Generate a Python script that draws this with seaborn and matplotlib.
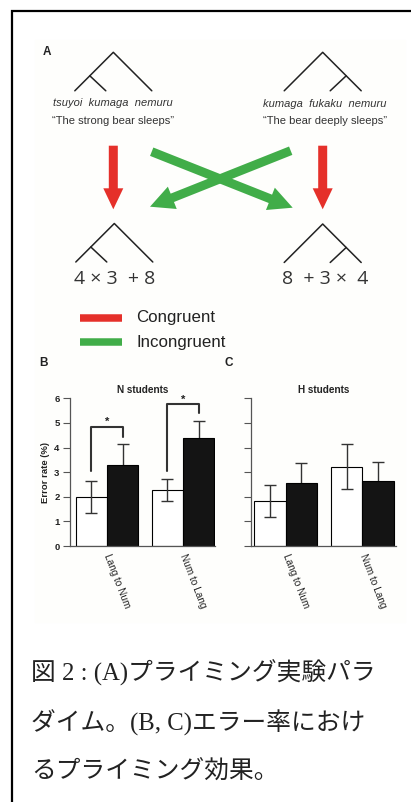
import numpy as np
import pandas as pd
import seaborn as sns
import matplotlib.pyplot as plt
from matplotlib.patches import FancyArrow

# datos
tasks = ["Lang to Num", "Num to Lang"]
primes = ["Congruent", "Incongruent"]
n_mean = [2.00, 3.30, 2.29, 4.37]      # orden: (task, prime)
n_err = [0.66, 0.83, 0.45, 0.70]
h_mean = [1.83, 2.56, 3.22, 2.66]
h_err = [0.65, 0.83, 0.91, 0.76]
yticks = [0, 1, 2, 3, 4, 5, 6]
# corchetes de significancia en N students: (top, pie izq, pie der)
sig_top = [4.85, 5.77]
sig_left = [3.04, 3.04]
sig_right = [4.44, 5.39]

legend_labels = ["Congruent", "Incongruent"]
legend_colors = ["#e5302a", "#41ad49"]
caption = ["図 2 : (A)プライミング実験パラ",
           "ダイム。(B, C)エラー率におけ",
           "るプライミング効果。"]

sns.set_style("white")
plt.rcParams["font.family"] = ["Liberation Sans", "DejaVu Sans"]

W, H = 411, 802
fig = plt.figure(figsize=(W / 100, H / 100), dpi=100)

# capa de fondo en pixeles (esquema A, marco, pie de figura)
bg = fig.add_axes([0, 0, 1, 1])
bg.set_xlim(0, W)
bg.set_ylim(H, 0)
bg.axis("off")

bg.add_patch(plt.Rectangle((35, 40), 370, 582, color="#fefefc", zorder=0))
bg.plot([12, 12, W], [H, 11, 11], color="black", lw=1.6, solid_joinstyle="miter")

def tree(ax, x0, y0, inner_left):
    # arbol binario: apex, base y rama interna
    half, h = 38.5, 38.5
    ax.plot([x0 - half, x0, x0 + half], [y0 + h, y0, y0 + h], color="#222", lw=1.1)
    if inner_left:
        ax.plot([x0 - 23.5, x0 - 7.5], [y0 + 23.5, y0 + h], color="#222", lw=1.1)
    else:
        ax.plot([x0 + 23.5, x0 + 7.5], [y0 + 23.5, y0 + h], color="#222", lw=1.1)

tree(bg, 113.3, 52.3, True)
tree(bg, 322.7, 52.3, False)
tree(bg, 114.3, 223.5, True)
tree(bg, 322.7, 224.0, False)

bg.text(47, 52, "A", fontsize=8.5, fontweight="bold", ha="center", va="center", color="#222")
bg.text(113.3, 103.3, "tsuyoi  kumaga  nemuru", fontsize=8, style="italic",
        ha="center", va="center", color="#333")
bg.text(113.3, 121.3, "\u201cThe strong bear sleeps\u201d", fontsize=8,
        ha="center", va="center", color="#333")
bg.text(325, 104.3, "kumaga  fukaku  nemuru", fontsize=8, style="italic",
        ha="center", va="center", color="#333")
bg.text(325, 121.3, "\u201cThe bear deeply sleeps\u201d", fontsize=8,
        ha="center", va="center", color="#333")
bg.text(115, 279, "4 \u00d7 3  + 8", fontsize=14, family="Open Sans",
        ha="center", va="center", color="#333")
bg.text(325, 279, "8  + 3 \u00d7  4", fontsize=14, family="Open Sans",
        ha="center", va="center", color="#333")

# flechas
for x in [113.3, 322.7]:
    bg.add_patch(FancyArrow(x, 145.7, 0, 63.6, width=9, head_width=20, head_length=21,
                            length_includes_head=True, color=legend_colors[0], lw=0))
bg.add_patch(FancyArrow(151.7, 151.7, 141, 56, width=9, head_width=24, head_length=24,
                        length_includes_head=True, color=legend_colors[1], lw=0))
bg.add_patch(FancyArrow(290.7, 150.7, -140.7, 56, width=9, head_width=24, head_length=24,
                        length_includes_head=True, color=legend_colors[1], lw=0))

# leyenda
for i, (lab, col) in enumerate(zip(legend_labels, legend_colors)):
    y = 317.7 + 24.6 * i
    bg.plot([80, 122.3], [y, y], color=col, lw=5.4, solid_capstyle="butt")
    bg.text(136, y, lab, fontsize=12.2, ha="left", va="center", color="#222")

bg.text(43, 363, "B", fontsize=8.5, fontweight="bold", ha="center", va="center", color="#222")
bg.text(229, 363, "C", fontsize=8.5, fontweight="bold", ha="center", va="center", color="#222")

for i, line in enumerate(caption):
    bg.text(31, 673 + 49.5 * i, line, fontsize=17.8, ha="left", va="center", color="#222",
            family=["Liberation Serif", "Noto Sans CJK JP"])


def panel(rect, means, errs, title, xlim, show_labels):
    ax = fig.add_axes(rect)
    df = pd.DataFrame({
        "task": np.repeat(tasks, 2),
        "prime": primes * 2,
        "rate": means,
        "err": errs,
    })
    sns.barplot(data=df, x="task", y="rate", hue="prime", order=tasks, hue_order=primes,
                palette=["white", "#141414"], edgecolor="black", linewidth=0.8,
                width=0.82, gap=0, errorbar=None, legend=False, ax=ax)
    bar_groups = list(ax.containers)
    for k, cont in enumerate(bar_groups):
        for j, bar in enumerate(cont):
            row = df[(df.task == tasks[j]) & (df.prime == primes[k])].iloc[0]
            cx = bar.get_x() + bar.get_width() / 2
            ax.errorbar(cx, row.rate, yerr=row.err, color="#333", lw=1.0, capsize=4.6,
                        capthick=1.0, zorder=3 if k == 0 else 0.5)
    ax.set_xlim(*xlim)
    ax.set_ylim(0, 6)
    ax.set_yticks(yticks)
    ax.set_xlabel("")
    ax.set_title(title, fontsize=7.2, fontweight="bold", pad=4, color="#222")
    sns.despine(ax=ax)
    for s in ["left", "bottom"]:
        ax.spines[s].set_color("#555")
        ax.spines[s].set_linewidth(0.9)
    ax.tick_params(axis="y", direction="out", length=5, width=0.8, color="#555",
                   labelsize=6.8, pad=2.5, left=True, labelleft=show_labels)
    ax.tick_params(axis="x", length=0, pad=6)
    for t in ax.get_yticklabels():
        t.set_fontweight("bold")
        t.set_color("#222")
    ax.set_xticks(range(len(tasks)))
    ax.set_xticklabels(tasks, rotation=-69, ha="left", va="center",
                       rotation_mode="anchor", fontsize=7.2, color="#222")
    ax.set_facecolor("none")
    return ax


axB = panel([70 / W, (H - 546) / H, (215 - 70) / W, (546 - 398.3) / H],
            n_mean, n_err, "N students", (-0.487, 1.42), True)
axB.set_ylabel("Error rate (%)", fontsize=6.8, fontweight="bold", color="#222", labelpad=3)

# corchetes de significancia
for j in range(len(tasks)):
    xl, xr = j - 0.205, j + 0.205
    axB.plot([xl, xl, xr, xr], [sig_left[j], sig_top[j], sig_top[j], sig_right[j]],
             color="#333", lw=1.5)
    axB.text(j, sig_top[j] + 0.18, "*", ha="center", va="center", fontsize=8,
             fontweight="bold", color="#222")

axC = panel([251 / W, (H - 546) / H, (396 - 251) / W, (546 - 398.3) / H],
            h_mean, h_err, "H students", (-0.45, 1.44), False)
axC.set_ylabel("")

fig.savefig("out.png", dpi=100)
